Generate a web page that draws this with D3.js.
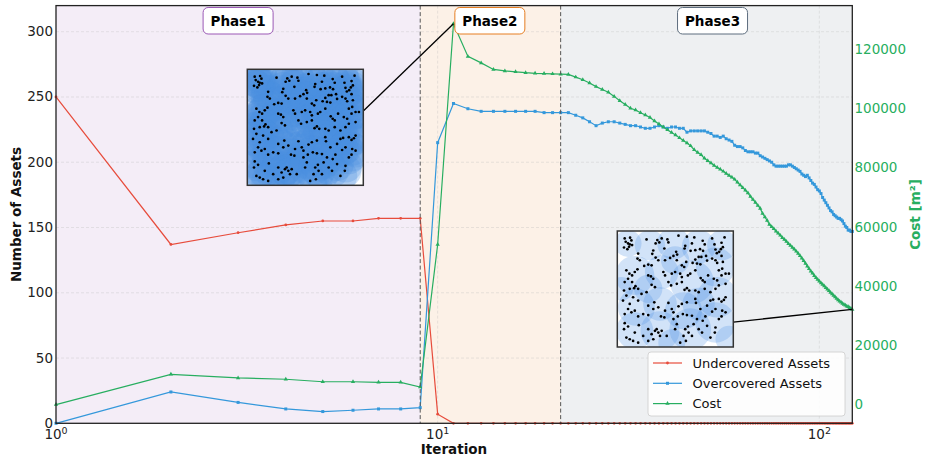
<!DOCTYPE html>
<html><head><meta charset="utf-8">
<script src="https://cdn.jsdelivr.net/npm/d3@7"></script>
<style>body{margin:0;background:#fff;} svg{display:block;font-family:"DejaVu Sans",sans-serif;}</style>
</head><body><svg id="c" width="925" height="458"></svg>
<script>
// ---------- data ----------
const iterations = d3.range(1, 123);
const undercovered = [250,137,146,152,155,155,157,157,157,7,
 0,0,0,0,0,0,0,0,0,0,0,0,0,0,0,0,0,0,0,0,0,0,0,0,0,0,0,0,0,0,
 0,0,0,0,0,0,0,0,0,0,0,0,0,0,0,0,0,0,0,0,0,0,0,0,0,0,0,0,0,0,
 0,0,0,0,0,0,0,0,0,0,0,0,0,0,0,0,0,0,0,0,0,0,0,0,0,0,0,0,0,0,
 0,0,0,0,0,0,0,0,0,0,0,0,0,0,0,0,0,0,0,0,0,0];
const overcovered = [0,24,16,11,9,10,11,11,12,
 215,245,241,239,239,239,239,239,239,238,238,238,
 238,236,234,231,228,230,231,231,230,229,228,228,227,226,226,227,228,227,226,227,227,226,226,223,224,224,224,224,
 224,223,222,220,220,219,220,218,217,216,213,212,212,211,209,208,208,208,207,207,
 205,204,203,202,201,200,198,197,197,197,197,197,197,198,198,197,196,195,194,193,
 191,190,189,190,188,186,184,183,181,179,178,176,173,171,169,167,165,163,162,160,
 159,158,157,157,156,155,153,151,150,148,148,147,147];
const cost = [0,10200,9000,8550,7700,7700,7500,7500,5900,
 54000,128500,117500,115300,113100,112600,112300,112000,111800,111700,111600,111500,
 111400,110500,109600,108500,107300,106300,105400,104000,102500,101300,100000,99400,98500,97700,96900,95700,94700,93700,92700,91800,91000,90000,89100,88300,87300,86000,85100,84300,
 83100,82300,81500,80700,80000,79400,78700,78000,77300,76700,76000,75000,74100,73200,72300,71400,70200,69200,68200,67200,
 66200,64500,63300,62100,60800,60000,59300,58500,57800,57100,56300,55700,55000,54300,53700,53000,52400,51700,51000,50200,
 49400,48500,47600,46700,45800,45000,44300,43500,42800,42200,41600,41000,40500,40000,39400,38900,38400,37800,37300,36800,
 36300,35800,35300,34900,34500,34100,33800,33500,33200,33000,32700,32400,32100];
const phaseNames = ["Phase1","Phase2","Phase3"];
const phaseBounds = [1, 9, 21, 122];
const phaseLabelAt = [3, 13.7, 52.5];
const leftTicks = [0,50,100,150,200,250,300];
const rightTicks = [0,20000,40000,60000,80000,100000,120000];
const xTicks = [1,10,100];
const seriesNames = ["Undercovered Assets","Overcovered Assets","Cost"];
// asset locations (picture units)
const assets = [[30,30],[46,28],[50,36],[33,40],[40,45],[45,48],[52,50],[43,55],[38,62],[28,57],[95,33],[127,35],[133,42],[122,45],[140,30],[157,33],[160,42],[190,22],[215,25],[237,27],[230,45],[210,52],[208,60],[262,37],[268,48],[290,30],[297,48],[318,43],[327,27],[322,56],[316,62],[311,70],[304,74],[300,63],
[70,75],[68,90],[75,95],[115,66],[112,76],[148,60],[183,70],[186,78],[240,65],[226,67],[254,62],[263,67],[272,82],[258,85],[250,85],[240,93],[232,103],[245,105],[255,107],[275,96],[290,90],[300,95],[318,82],[305,103],[322,100],[88,112],[100,108],[110,110],[122,87],[130,95],[150,95],[165,88],[175,82],[185,95],[200,110],[207,115],[213,100],[320,120],[310,125],
[44,135],[35,125],[52,140],[60,130],[68,122],[40,150],[30,160],[52,160],[62,172],[70,180],[58,178],[45,180],[28,185],[100,140],[108,143],[115,150],[145,130],[150,140],[170,135],[180,130],[195,135],[200,145],[218,140],[225,135],[240,125],[256,148],[262,155],[268,160],[278,140],[295,150],[305,155],[318,140],[330,135],[340,135],[110,168],[120,175],[95,190],[80,195],[160,160],[168,170],[185,165],[200,160],[215,178],[222,185],[208,183],[240,185],[250,190],[268,180],[285,190],[300,180],[310,170],[330,165],
[35,200],[55,205],[25,215],[45,225],[70,215],[100,230],[118,220],[115,240],[130,235],[150,245],[160,222],[170,240],[175,250],[190,232],[200,225],[215,220],[240,210],[242,222],[255,240],[230,260],[275,230],[285,215],[293,212],[310,210],[318,218],[325,213],[330,205],[300,240],[320,245],[290,248],[60,245],[40,240],[30,255],[50,250],[85,255],[70,262],[100,258],[138,262],[148,265],[188,262],[203,255],[215,258],
[30,282],[40,292],[28,300],[35,325],[45,330],[60,310],[72,288],[100,300],[110,315],[85,320],[120,305],[125,300],[130,310],[140,305],[135,320],[155,320],[115,330],[100,335],[175,270],[185,285],[180,300],[195,340],[205,320],[210,300],[218,292],[220,310],[230,320],[212,335],[235,285],[245,270],[262,275],[270,262],[275,290],[285,325],[300,295],[310,270],[318,262],[330,250],[298,310],[250,300],[260,310],[55,335],[70,340]];
// sensor footprints (picture units: cx, cy, r)
const peakSensorRadius = 50;
const finalSensors = [[40,45,40],[105,50,45],[175,45,48],[250,55,50],[320,50,45],[60,140,58],[140,130,50],[230,160,65],[300,115,58],[305,205,60],[65,235,55],[135,225,50],[205,245,55],[60,305,55],[135,305,58],[225,300,62],[300,280,60],[340,330,40],[180,95,42],[100,180,42],[250,225,48],[170,340,40],[20,180,35]];

// ---------- layout ----------
const W = 925, H = 458;
const m = {l:56, r:925-852.3, t:5.6, b:458-423.3};
const svg = d3.select("#c");
const x = d3.scaleLog().domain([1,122]).range([m.l, W-m.r]);
const yL = d3.scaleLinear().domain([0,320]).range([H-m.b, m.t]);
const yR = d3.scaleLinear().domain([-6320,134640]).range([H-m.b, m.t]);
const colors = {red:"#e74c3c", blue:"#3498db", green:"#27ae60"};
const phaseColors = ["#9b59b6","#e67e22","#5d6d7e"];

// phase backgrounds
phaseNames.forEach((p,i)=>{
  svg.append("rect").attr("x", x(phaseBounds[i])).attr("y", m.t)
    .attr("width", x(phaseBounds[i+1]) - x(phaseBounds[i])).attr("height", yL(0)-m.t)
    .attr("fill", phaseColors[i]).attr("fill-opacity", i===2?0.1:0.11);
});

// grid
const g = svg.append("g");
leftTicks.filter(t=>t>0).forEach(t=>{
  g.append("line").attr("x1", m.l).attr("x2", W-m.r).attr("y1", yL(t)).attr("y2", yL(t))
   .attr("stroke","#bbb").attr("stroke-opacity",0.4).attr("stroke-dasharray","3,2").attr("stroke-width",0.8);
});
xTicks.filter(t=>t>1).forEach(t=>{
  g.append("line").attr("x1", x(t)).attr("x2", x(t)).attr("y1", m.t).attr("y2", yL(0))
   .attr("stroke","#bbb").attr("stroke-opacity",0.4).attr("stroke-dasharray","3,2").attr("stroke-width",0.8);
});

// series
function drawSeries(vals, yS, color, sym, size){
  const pts = iterations.map((n,i)=>[x(n), yS(vals[i])]);
  svg.append("path").attr("d", d3.line()(pts)).attr("fill","none")
    .attr("stroke", color).attr("stroke-width",1.2);
  const s = d3.symbol().type(sym).size(size);
  svg.append("g").selectAll("path").data(pts).join("path")
    .attr("d", s).attr("transform", d=>`translate(${d[0]},${d[1]})`).attr("fill", color);
}
drawSeries(undercovered, yL, colors.red, d3.symbolCircle, 6);
drawSeries(overcovered, yL, colors.blue, d3.symbolSquare, 9);
drawSeries(cost, yR, colors.green, d3.symbolTriangle, 8);

// phase dividers
[phaseBounds[1], phaseBounds[2]].forEach(b=>{
  svg.append("line").attr("x1", x(b)).attr("x2", x(b)).attr("y1", m.t).attr("y2", yL(0))
    .attr("stroke","#555").attr("stroke-width",1).attr("stroke-dasharray","4,2.5");
});

// phase labels
phaseNames.forEach((p,i)=>{
  const cx = x(phaseLabelAt[i]);
  svg.append("rect").attr("x", cx-35).attr("y", 7.5).attr("width",70).attr("height",26.5)
    .attr("rx",5).attr("fill","#fff").attr("stroke", phaseColors[i]).attr("stroke-width",1);
  svg.append("text").attr("x", cx).attr("y", 25.5).attr("text-anchor","middle")
    .attr("font-size","13.5px").attr("font-weight","bold").attr("fill","#000").text(p);
});

// insets
const SIZE = 116;
const pic = d3.scaleLinear().domain([8,353]).range([0,SIZE]);
const picLen = SIZE/345;
function inset(id, left, top, circles, fillOp, anchorFrac, target){
  svg.append("line").attr("x1", left+SIZE).attr("y1", top+SIZE*anchorFrac)
    .attr("x2", target[0]).attr("y2", target[1]).attr("stroke","#000").attr("stroke-width",1.3);
  const gi = svg.append("g").attr("transform",`translate(${left},${top})`);
  gi.append("clipPath").attr("id",id).append("rect").attr("width",SIZE).attr("height",SIZE);
  gi.append("rect").attr("width",SIZE).attr("height",SIZE).attr("fill","#fff");
  const cg = gi.append("g").attr("clip-path",`url(#${id})`);
  cg.selectAll("circle.s").data(circles).join("circle").attr("class","s")
    .attr("cx",d=>pic(d[0])).attr("cy",d=>pic(d[1])).attr("r",d=>d[2]*picLen)
    .attr("fill","#4a90e2").attr("fill-opacity",fillOp);
  cg.selectAll("circle.a").data(assets).join("circle").attr("class","a")
    .attr("cx",d=>pic(d[0])).attr("cy",d=>pic(d[1])).attr("r",1.35).attr("fill","#000");
  gi.append("rect").attr("width",SIZE).attr("height",SIZE).attr("fill","none")
    .attr("stroke","#333").attr("stroke-width",1.5);
}
const peakIdx = cost.indexOf(d3.max(cost));
inset("in1", 247.3, 69.3, assets.map(a=>[a[0],a[1],peakSensorRadius]), 0.26, 0.36,
  [x(iterations[peakIdx]), yR(cost[peakIdx])]);
inset("in2", 617.3, 231, finalSensors, 0.25, 0.785,
  [x(iterations[iterations.length-1]), yR(cost[cost.length-1])]);

// legend
const lg = svg.append("g").attr("transform","translate(648,352)");
lg.append("rect").attr("width",197).attr("height",64).attr("rx",3)
  .attr("fill","#fff").attr("fill-opacity",0.85).attr("stroke","#ccc").attr("stroke-width",0.8);
const legSym = [[colors.red,d3.symbolCircle,6],[colors.blue,d3.symbolSquare,9],[colors.green,d3.symbolTriangle,8]];
seriesNames.forEach((n,i)=>{
  const yy = 11 + i*20.3;
  lg.append("line").attr("x1",5).attr("x2",34).attr("y1",yy).attr("y2",yy)
    .attr("stroke",legSym[i][0]).attr("stroke-width",1.2);
  lg.append("path").attr("d", d3.symbol().type(legSym[i][1]).size(legSym[i][2])())
    .attr("transform",`translate(19.5,${yy})`).attr("fill",legSym[i][0]);
  lg.append("text").attr("x",44.5).attr("y",yy+4.8).attr("font-size","13px").attr("fill","#111").text(n);
});

// spines
svg.append("rect").attr("x", m.l).attr("y", m.t).attr("width", W-m.r-m.l).attr("height", yL(0)-m.t)
  .attr("fill","none").attr("stroke","#222").attr("stroke-width",1.3);

// axes text
svg.selectAll("text.yl").data(leftTicks).join("text").attr("class","yl")
  .attr("x", 53).attr("y", d=>yL(d)+4.5).attr("text-anchor","end")
  .attr("font-size","13.5px").attr("fill","#222").text(d=>d);
svg.selectAll("text.yr").data(rightTicks).join("text").attr("class","yr")
  .attr("x", 854.5).attr("y", d=>yR(d)+4.8).attr("text-anchor","start")
  .attr("font-size","13.5px").attr("fill",colors.green).text(d=>d);
xTicks.forEach(t=>{
  const tx = svg.append("text").attr("x", x(t)).attr("y", 438.5).attr("text-anchor","middle")
    .attr("font-size","13.5px").attr("fill","#222");
  tx.append("tspan").text("10");
  tx.append("tspan").attr("dy",-5).attr("font-size","9.5px").text(Math.round(Math.log10(t)));
});
svg.append("text").attr("x", 454).attr("y", 454).attr("text-anchor","middle")
  .attr("font-size","13.5px").attr("font-weight","bold").attr("fill","#111").text("Iteration");
svg.append("text").attr("transform",`translate(21,214.5) rotate(-90)`).attr("text-anchor","middle")
  .attr("font-size","13.5px").attr("font-weight","bold").attr("fill","#111").text("Number of Assets");
svg.append("text").attr("transform",`translate(920,214.5) rotate(-90)`).attr("text-anchor","middle")
  .attr("font-size","13.5px").attr("font-weight","bold").attr("fill",colors.green).text("Cost [m²]");
</script></body></html>
